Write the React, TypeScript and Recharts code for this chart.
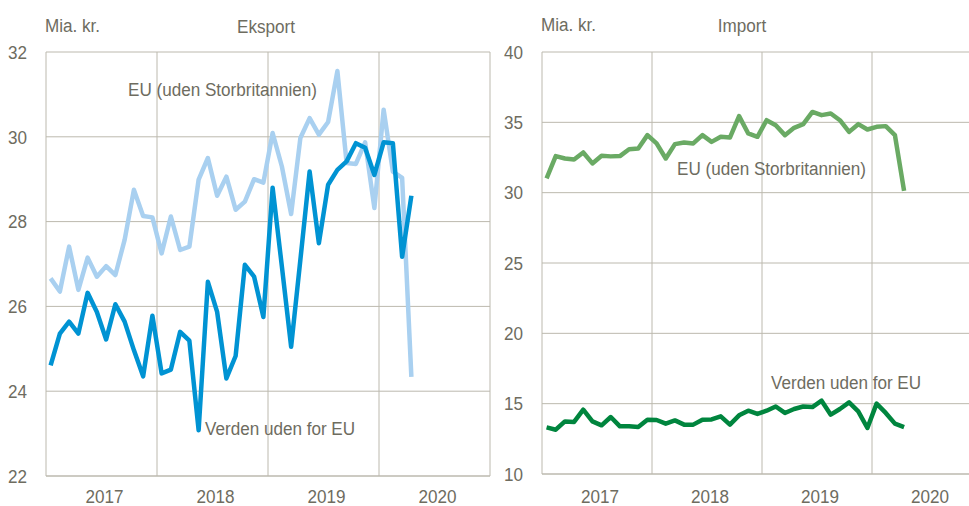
import React from 'react';
import { LineChart, Line, XAxis, YAxis, CartesianGrid, ReferenceLine } from 'recharts';

const years = ['2017', '2018', '2019', '2020'];
const exportTicks = [22, 24, 26, 28, 30, 32];
const importTicks = [10, 15, 20, 25, 30, 35, 40];

const euExport = [
  26.66, 26.35, 27.41, 26.39, 27.15, 26.7, 26.95, 26.74, 27.57, 28.75, 28.13, 28.1,
  27.25, 28.12, 27.33, 27.41, 28.99, 29.5, 28.61, 29.06, 28.28, 28.47, 29.0, 28.92,
  30.09, 29.3, 28.18, 29.97, 30.44, 30.05, 30.35, 31.55, 29.38, 29.36, 29.87, 28.32,
  30.64, 29.18, 29.03, 24.34,
];
const worldExport = [
  24.61, 25.36, 25.64, 25.36, 26.32, 25.87, 25.22, 26.05, 25.64, 24.97, 24.35, 25.78,
  24.42, 24.51, 25.4, 25.19, 23.08, 26.58, 25.87, 24.3, 24.83, 26.98, 26.7, 25.75,
  28.8, 26.94, 25.05, 27.1, 29.18, 27.49, 28.87, 29.22, 29.42, 29.85, 29.74, 29.1,
  29.87, 29.85, 27.17, 28.61,
];
const euImport = [
  31.01, 32.6, 32.43, 32.36, 32.86, 32.08, 32.62, 32.58, 32.6, 33.09, 33.14, 34.09,
  33.5, 32.43, 33.45, 33.57, 33.5, 34.09, 33.61, 33.97, 33.92, 35.44, 34.21, 33.97,
  35.15, 34.8, 34.09, 34.61, 34.87, 35.74, 35.51, 35.63, 35.15, 34.32, 34.87, 34.49,
  34.68, 34.73, 34.09, 30.13,
];
const worldImport = [
  13.31, 13.15, 13.74, 13.7, 14.57, 13.74, 13.46, 14.05, 13.39, 13.39, 13.34, 13.86,
  13.84, 13.58, 13.81, 13.51, 13.51, 13.86, 13.88, 14.1, 13.51, 14.17, 14.5, 14.27,
  14.5, 14.8, 14.34, 14.62, 14.8, 14.76, 15.21, 14.22, 14.62, 15.09, 14.45, 13.27,
  15.0, 14.34, 13.58, 13.34,
];

const exportData = euExport.map((v, i) => ({ t: i + 0.5, eu: v, world: worldExport[i] }));
const importData = euImport.map((v, i) => ({ t: i + 0.5, eu: v, world: worldImport[i] }));

const TEXT = '#6e6c5f';
const GRID = '#bcb9ae';
const FONT = '"Liberation Sans", Arial, sans-serif';
const FS = 19;
const SX = 0.9;
const yearTicks = [6, 18, 30, 42];
const yearBounds = [12, 24, 36, 48];
const yearFmt = (v: number) => years[Math.round((v - 6) / 12)];

function NText({ x, y, anchor = 'start', dy = 0, children }: any) {
  return (
    <g transform={`translate(${x},${y})`}>
      <text transform={`scale(${SX},1)`} textAnchor={anchor} dy={dy} fill={TEXT} fontFamily={FONT} fontSize={FS}>
        {children}
      </text>
    </g>
  );
}

const YTick = (props: any) => (
  <NText x={props.x} y={props.y} anchor="end" dy="0.355em">{props.payload.value}</NText>
);
const XTick = (props: any) => (
  <NText x={props.x + 3} y={props.y} anchor="middle" dy="0.71em">{yearFmt(props.payload.value)}</NText>
);

export default function App() {
  return (
    <div style={{ position: 'absolute', top: 0, left: 0, width: 969, height: 506, overflow: 'hidden', background: '#fff' }}>
      <div style={{ position: 'absolute', left: 0, top: 0 }}>
        <LineChart width={491} height={506} data={exportData} margin={{ top: 52, right: 1, bottom: 0, left: 0 }}>
          <CartesianGrid vertical={false} stroke={GRID} />
          <XAxis type="number" dataKey="t" domain={[0, 48]} ticks={yearTicks}
            height={30} tickSize={0} tickMargin={13} axisLine={{ stroke: GRID }} tick={XTick} />
          <YAxis domain={[22, 32]} ticks={exportTicks} width={46} tickSize={0} tickMargin={19}
            axisLine={{ stroke: GRID }} tick={YTick} />
          {yearBounds.map((x) => (
            <ReferenceLine key={x} x={x} stroke={GRID} />
          ))}
          <Line dataKey="eu" stroke="#a9d0f0" strokeWidth={4.5} dot={false} strokeLinejoin="round" isAnimationActive={false} />
          <Line dataKey="world" stroke="#0093d3" strokeWidth={4.5} dot={false} strokeLinejoin="round" isAnimationActive={false} />
        </LineChart>
      </div>
      <div style={{ position: 'absolute', left: 490, top: 0 }}>
        <LineChart width={492} height={506} data={importData} margin={{ top: 52, right: 0, bottom: 0, left: 0 }}>
          <CartesianGrid vertical={false} stroke={GRID} />
          <XAxis type="number" dataKey="t" domain={[0, 48]} ticks={yearTicks}
            height={32} tickSize={0} tickMargin={15} axisLine={{ stroke: GRID }} tick={XTick} />
          <YAxis domain={[10, 40]} ticks={importTicks} width={52} tickSize={0} tickMargin={19}
            axisLine={{ stroke: GRID }} tick={YTick} />
          {yearBounds.map((x) => (
            <ReferenceLine key={x} x={x} stroke={GRID} />
          ))}
          <Line dataKey="eu" stroke="#6aaa64" strokeWidth={4.5} dot={false} strokeLinejoin="round" isAnimationActive={false} />
          <Line dataKey="world" stroke="#00853e" strokeWidth={4.5} dot={false} strokeLinejoin="round" isAnimationActive={false} />
        </LineChart>
      </div>
      <svg width={969} height={506} style={{ position: 'absolute', left: 0, top: 0, pointerEvents: 'none' }}>
        <NText x={45} y={32}>Mia. kr.</NText>
        <NText x={266} y={33} anchor="middle">Eksport</NText>
        <NText x={128} y={96}>EU (uden Storbritannien)</NText>
        <NText x={205} y={435}>Verden uden for EU</NText>
        <NText x={541} y={31}>Mia. kr.</NText>
        <NText x={742} y={32} anchor="middle">Import</NText>
        <NText x={677} y={175}>EU (uden Storbritannien)</NText>
        <NText x={771} y={389}>Verden uden for EU</NText>
      </svg>
    </div>
  );
}
